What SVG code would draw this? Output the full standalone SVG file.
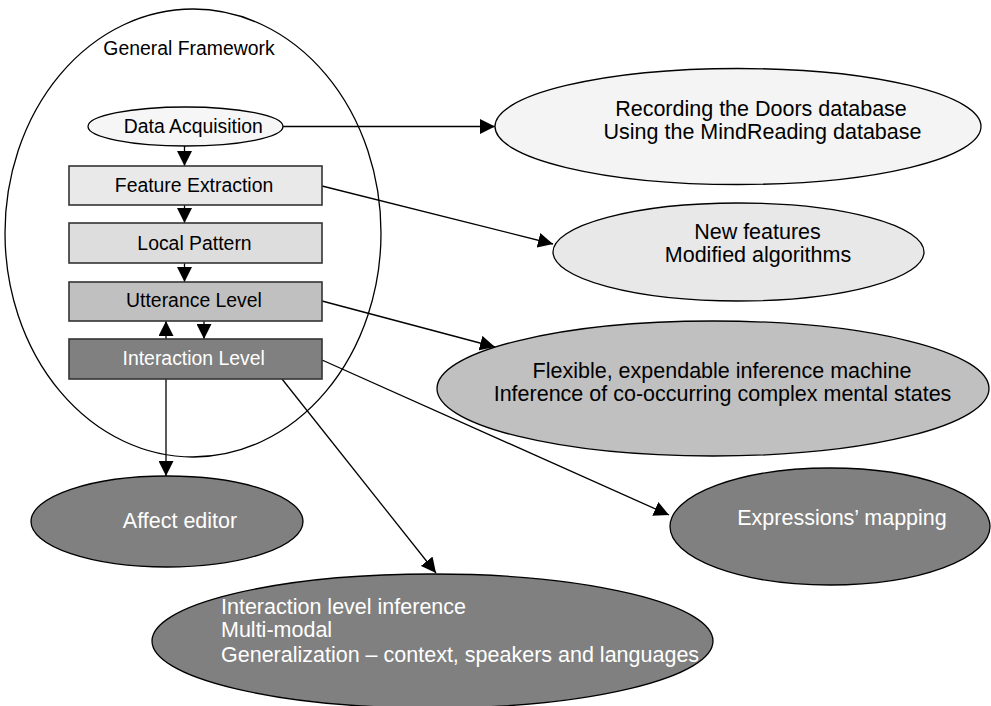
<svg xmlns="http://www.w3.org/2000/svg" width="991" height="706" viewBox="0 0 991 706">
<style>
text{font-family:"Liberation Sans",Arial,sans-serif;}
.in{font-size:19.4px;fill:#000;text-anchor:middle;}
.out{font-size:21.5px;fill:#000;}
.w{fill:#fff;}
.c{text-anchor:middle;}
.sh{stroke:#000;stroke-width:1.3;}
.box{stroke:#333;stroke-width:1.6;}
.ln{stroke:#000;stroke-width:1.3;fill:none;marker-end:url(#ah);}
</style>
<defs>
<marker id="ah" markerUnits="userSpaceOnUse" markerWidth="15" markerHeight="15" refX="15" refY="7.5" orient="auto" viewBox="0 0 15 15">
<path d="M0,0 L15,7.5 L0,15 z" fill="#000"/>
</marker>
</defs>
<rect width="991" height="706" fill="#fff"/>
<g id="framework">
<ellipse cx="193" cy="233" rx="188" ry="224" fill="none" class="sh"/>
<text class="in" x="189" y="55">General Framework</text>
</g>
<g id="connectors">
<line class="ln" x1="283" y1="126.5" x2="495" y2="126.5"/>
<line class="ln" x1="184.5" y1="146" x2="184.5" y2="166"/>
<line class="ln" x1="184.5" y1="205" x2="184.5" y2="223"/>
<line class="ln" x1="184.5" y1="263" x2="184.5" y2="282"/>
<line class="ln" x1="204" y1="321" x2="204" y2="339"/>
<line class="ln" x1="166" y1="339" x2="166" y2="321"/>
<line class="ln" x1="322" y1="186" x2="553" y2="244"/>
<line class="ln" x1="322" y1="301" x2="495" y2="347"/>
<line class="ln" x1="322" y1="360" x2="669" y2="515"/>
<line class="ln" x1="282" y1="379" x2="436" y2="573"/>
<line class="ln" x1="166" y1="379" x2="166" y2="476"/>
</g>
<g id="data-acquisition">
<ellipse cx="185.5" cy="126.5" rx="97.5" ry="19.5" fill="#f6f6f6" class="sh"/>
<text class="in" x="193.3" y="133.3">Data Acquisition</text>
</g>
<g id="feature-extraction">
<rect x="69" y="166" width="253" height="39" fill="#e9e9e9" class="box"/>
<text class="in" x="194" y="191.7">Feature Extraction</text>
</g>
<g id="local-pattern">
<rect x="69" y="223" width="253" height="40" fill="#dddddd" class="box"/>
<text class="in" x="194.5" y="249.5">Local Pattern</text>
</g>
<g id="utterance-level">
<rect x="69" y="282" width="253" height="39" fill="#c0c0c0" class="box"/>
<text class="in" x="194" y="306.7">Utterance Level</text>
</g>
<g id="interaction-level">
<rect x="69" y="339" width="253" height="40" fill="#808080" class="box"/>
<text class="in w" x="193.7" y="365">Interaction Level</text>
</g>
<g id="recording">
<ellipse cx="738" cy="126.5" rx="243" ry="58" fill="#f4f4f4" class="sh"/>
<text class="out c" x="761" y="116">Recording the Doors database</text>
<text class="out c" x="762.5" y="138.5">Using the MindReading database</text>
</g>
<g id="new-features">
<ellipse cx="738.5" cy="252" rx="185.5" ry="49" fill="#e8e8e8" class="sh"/>
<text class="out c" x="757.5" y="238.5">New features</text>
<text class="out c" x="758" y="262">Modified algorithms</text>
</g>
<g id="flexible">
<ellipse cx="713" cy="388.5" rx="276" ry="67.5" fill="#c0c0c0" class="sh"/>
<text class="out c" x="722" y="377.5">Flexible, expendable inference machine</text>
<text class="out c" x="722.5" y="401">Inference of co-occurring complex mental states</text>
</g>
<g id="affect-editor">
<ellipse cx="167" cy="521.5" rx="136" ry="45.5" fill="#808080" class="sh"/>
<text class="out c w" x="180" y="528">Affect editor</text>
</g>
<g id="expressions">
<ellipse cx="830" cy="526.5" rx="160" ry="58.5" fill="#808080" class="sh"/>
<text class="out c w" x="842" y="525">Expressions’ mapping</text>
</g>
<g id="interaction-inference">
<ellipse cx="432.5" cy="641" rx="280.5" ry="67" fill="#808080" class="sh"/>
<text class="out w" x="221" y="613.5">Interaction level inference</text>
<text class="out w" x="221" y="637">Multi-modal</text>
<text class="out w" x="221" y="661.5">Generalization – context, speakers and languages</text>
</g>
</svg>
